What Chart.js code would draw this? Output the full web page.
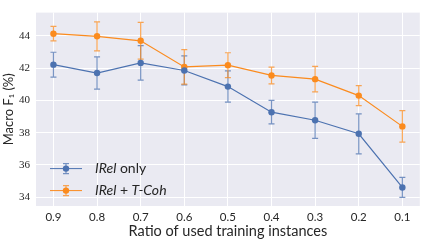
<!DOCTYPE html>
<html><head><meta charset="utf-8">
<script src="https://cdn.jsdelivr.net/npm/chart.js@4"></script>
<style>html,body{margin:0;padding:0;background:#fff}#w{width:423px;height:240px}</style>
</head><body><div id="w"><canvas id="c" width="423" height="240"></canvas></div>
<script>
const ratios = [0.9, 0.8, 0.7, 0.6, 0.5, 0.4, 0.3, 0.2, 0.1];
const irelOnly = [42.22, 41.70, 42.33, 41.86, 40.86, 39.27, 38.77, 37.93, 34.60];
const irelOnlyErr = [0.77, 1.00, 1.07, 0.90, 0.97, 0.73, 1.12, 1.24, 0.62];
const irelTcoh = [44.14, 43.98, 43.70, 42.08, 42.19, 41.55, 41.32, 40.30, 38.39];
const irelTcohErr = [0.45, 0.90, 1.14, 1.07, 0.77, 0.52, 0.79, 0.62, 0.98];
const yTicks = [34, 36, 38, 40, 42, 44];
const xTicks = [0.9, 0.8, 0.7, 0.6, 0.5, 0.4, 0.3, 0.2, 0.1];
const seriesNames = ['IRel only', 'IRel + T-Coh'];

const BLUE = '#4c72b0', ORANGE = '#fb8b1e';
const errs = [irelOnlyErr, irelTcohErr];

const bgPlugin = {
  id: 'bg',
  beforeDraw(chart) {
    const {ctx, chartArea: a} = chart;
    ctx.save(); ctx.fillStyle = '#eaeaf2';
    ctx.fillRect(a.left, a.top, a.right - a.left, a.bottom - a.top);
    ctx.restore();
  }
};
const errPlugin = {
  id: 'err',
  beforeDatasetsDraw(chart) {
    const {ctx, scales: {x, y}} = chart;
    ctx.save();
    chart.data.datasets.forEach((ds, i) => {
      ctx.strokeStyle = ds.borderColor; ctx.globalAlpha = 0.75; ctx.lineWidth = 1.2;
      ds.data.forEach((p, j) => {
        const e = errs[i][j];
        const px = x.getPixelForValue(p.x);
        const y1 = y.getPixelForValue(p.y + e), y2 = y.getPixelForValue(p.y - e);
        ctx.beginPath();
        ctx.moveTo(px, y1); ctx.lineTo(px, y2);
        ctx.moveTo(px - 3, y1); ctx.lineTo(px + 3, y1);
        ctx.moveTo(px - 3, y2); ctx.lineTo(px + 3, y2);
        ctx.stroke();
      });
    });
    ctx.restore();
  }
};
const legendPlugin = {
  id: 'leg',
  afterDraw(chart) {
    const {ctx, chartArea: a} = chart;
    const cols = [BLUE, ORANGE];
    const rows = [a.top + 156, a.top + 178];
    ctx.save();
    rows.forEach((yy, i) => {
      const x0 = a.left + 14, x1 = a.left + 46, xm = (x0 + x1) / 2;
      ctx.strokeStyle = cols[i]; ctx.fillStyle = cols[i];
      ctx.globalAlpha = 0.75; ctx.lineWidth = 1.2;
      ctx.beginPath();
      ctx.moveTo(xm, yy - 5); ctx.lineTo(xm, yy + 5);
      ctx.moveTo(xm - 3, yy - 5); ctx.lineTo(xm + 3, yy - 5);
      ctx.moveTo(xm - 3, yy + 5); ctx.lineTo(xm + 3, yy + 5);
      ctx.stroke();
      ctx.globalAlpha = 1; ctx.lineWidth = 1;
      ctx.beginPath(); ctx.moveTo(x0, yy); ctx.lineTo(x1, yy); ctx.stroke();
      ctx.beginPath(); ctx.arc(xm, yy, 3.2, 0, Math.PI * 2); ctx.fill();
      ctx.fillStyle = '#262626'; ctx.textBaseline = 'middle'; ctx.textAlign = 'left';
      let tx = a.left + 59;
      const parts = i === 0 ? [['IRel', true], [' only', false]]
                            : [['IRel', true], [' + ', false], ['T-Coh', true]];
      parts.forEach(([t, it]) => {
        ctx.font = (it ? 'italic ' : '') + '14px Lato';
        ctx.fillText(t, tx, yy);
        tx += ctx.measureText(t).width;
      });
    });
    ctx.restore();
  }
};

const mk = (vals) => ratios.map((r, i) => ({x: r, y: vals[i]}));
new Chart(document.getElementById('c'), {
  type: 'line',
  data: {
    datasets: [
      {label: seriesNames[0], data: mk(irelOnly), borderColor: BLUE, backgroundColor: BLUE,
       borderWidth: 1.2, pointRadius: 3.2, pointBorderWidth: 0, pointHoverRadius: 3.2, tension: 0},
      {label: seriesNames[1], data: mk(irelTcoh), borderColor: ORANGE, backgroundColor: ORANGE,
       borderWidth: 1.2, pointRadius: 3.2, pointBorderWidth: 0, pointHoverRadius: 3.2, tension: 0}
    ]
  },
  options: {
    responsive: false, animation: false, events: [],
    layout: {padding: {top: 5, right: 2, left: 0, bottom: 0}},
    plugins: {legend: {display: false}, tooltip: {enabled: false}},
    scales: {
      x: {
        type: 'linear', reverse: true, min: 0.06, max: 0.94,
        afterBuildTicks: (s) => { s.ticks = xTicks.map(v => ({value: v})); },
        afterFit: (s) => { s.height = 34; },
        grid: {color: '#ffffff', lineWidth: 1, drawTicks: false},
        border: {display: false},
        ticks: {color: '#262626', font: {family: 'Lato', size: 11.5}, padding: 4,
                callback: (v) => v.toFixed(1), maxRotation: 0, autoSkip: false},
        title: {display: true, text: 'Ratio of used training instances', color: '#262626',
                font: {family: 'Lato', size: 14.5}, padding: {top: 0, bottom: 0}}
      },
      y: {
        min: 33.45, max: 45.45,
        afterBuildTicks: (s) => { s.ticks = yTicks.map(v => ({value: v})); },
        afterFit: (s) => { s.width = 36; },
        grid: {color: '#ffffff', lineWidth: 1, drawTicks: false},
        border: {display: false},
        ticks: {color: '#262626', font: {family: 'Liberation Serif', size: 11}, padding: 6},
        title: {display: true, text: 'Macro F\u2081 (%)', color: '#262626',
                font: {family: 'Lato', size: 13}, padding: {top: 1, bottom: 0}}
      }
    }
  },
  plugins: [bgPlugin, errPlugin, legendPlugin]
});
</script></body></html>
